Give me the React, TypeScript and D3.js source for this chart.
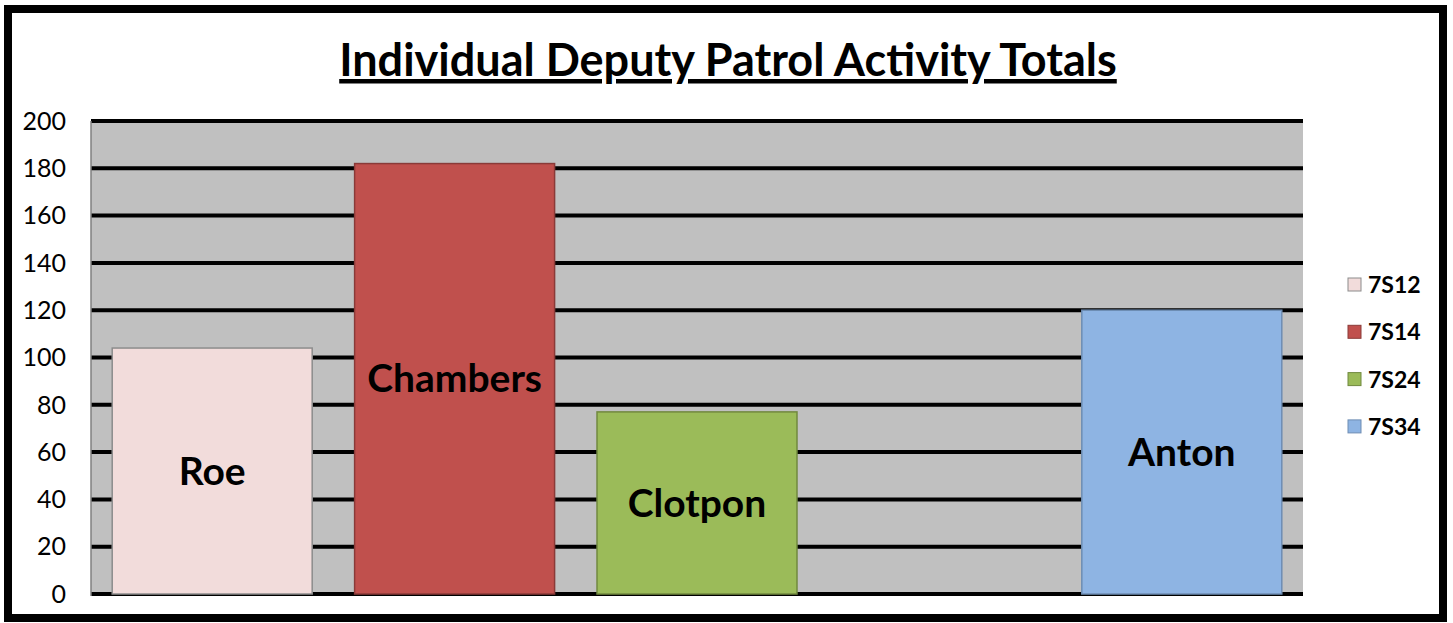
import React from 'react';
import * as d3 from 'd3';

const width = 1453;
const height = 623;

// chart data
const deputies = ['Roe', 'Chambers', 'Clotpon', '', 'Anton'];
const units = ['7S12', '7S14', '7S24', '', '7S34'];
const totals: (number | null)[] = [104, 182, 77, null, 120];
const colors = ['#F2DCDB', '#C0504D', '#9BBB59', '#FFFFFF', '#8EB4E3'];
const strokes = ['#8C8C8C', '#8A3A38', '#71893F', '#FFFFFF', '#6E8DB3'];
const yTicks = [0, 20, 40, 60, 80, 100, 120, 140, 160, 180, 200];

const plot = { left: 91, right: 1303, top: 121, bottom: 594 };
const font = 'Lato, "Open Sans", sans-serif';

const App = () => {
    const x = d3.scaleBand<number>()
        .domain(d3.range(deputies.length))
        .range([plot.left, plot.right])
        .paddingInner(0.175)
        .paddingOuter(0.0875);
    const y = d3.scaleLinear().domain([0, 200]).range([plot.bottom, plot.top]);

    const legend = units
        .map((u, i) => ({ u, i }))
        .filter(d => d.u !== '');

    return (
        <svg width={width} height={height} style={{ position: 'absolute', left: 0, top: 0 }}>
            <rect x={0} y={0} width={width} height={height} fill="#fff" />
            <rect x={8} y={9} width={1435} height={609} fill="#fff" stroke="#000" strokeWidth={8} />

            <text x={728} y={76} textAnchor="middle" fontFamily={font} fontWeight="bold"
                fontSize={45} textDecoration="underline">
                Individual Deputy Patrol Activity Totals
            </text>

            <rect x={plot.left} y={plot.top} width={plot.right - plot.left}
                height={plot.bottom - plot.top} fill="#C0C0C0" />
            {yTicks.map(t => (
                <line key={t} x1={plot.left} x2={plot.right} y1={y(t)} y2={y(t)}
                    stroke="#000" strokeWidth={4} />
            ))}
            <line x1={plot.left} x2={plot.left} y1={plot.top} y2={plot.bottom + 2}
                stroke="#808080" strokeWidth={1.5} />
            {yTicks.map(t => (
                <text key={t} x={66} y={y(t)} dy="0.35em" textAnchor="end"
                    fontFamily={font} fontSize={25}>{t}</text>
            ))}

            {totals.map((v, i) => v == null ? null : (
                <g key={i}>
                    <rect x={x(i)} y={y(v)} width={x.bandwidth()} height={y(0) - y(v)}
                        fill={colors[i]} stroke={strokes[i]} strokeWidth={1.5} />
                    <text x={(x(i) as number) + x.bandwidth() / 2} y={(y(v) + y(0)) / 2}
                        dy="0.35em" textAnchor="middle" fontFamily={font} fontWeight="bold"
                        fontSize={39}>{deputies[i]}</text>
                </g>
            ))}

            {legend.map((d, k) => (
                <g key={d.u} transform={`translate(1348, ${285 + k * 47.3})`}>
                    <rect x={0} y={-7} width={13} height={13} fill={colors[d.i]}
                        stroke={strokes[d.i]} strokeWidth={1} />
                    <text x={20} y={0} dy="0.35em" fontFamily={font} fontWeight="bold"
                        fontSize={23}>{d.u}</text>
                </g>
            ))}
        </svg>
    );
};

export default App;
